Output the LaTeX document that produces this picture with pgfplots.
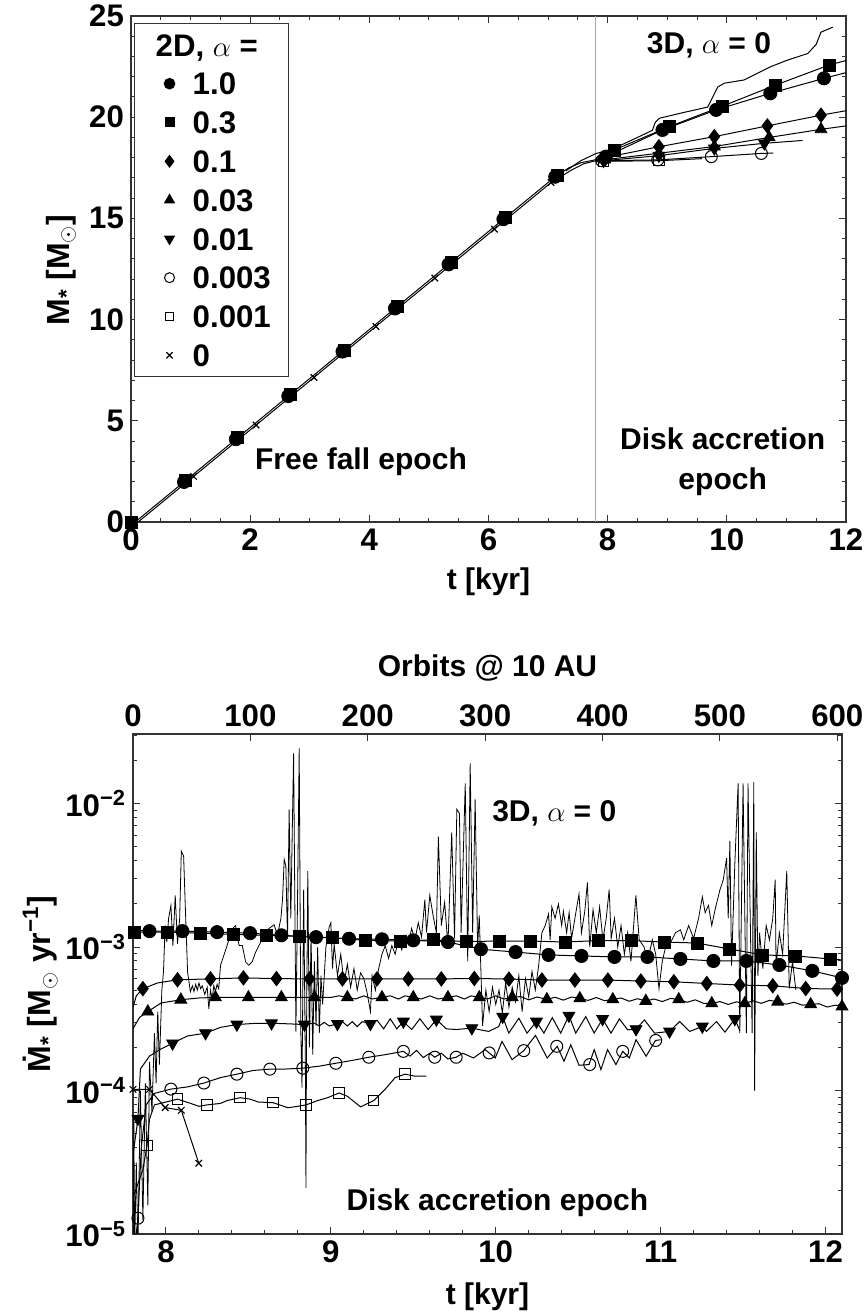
\documentclass[border=0pt]{standalone}
\usepackage{pgfplots}
\pgfplotsset{compat=1.18}
\usepackage{fontspec}
\setmainfont{Liberation Sans}

\pgfplotsset{
  panel/.style={
    scale only axis,
    axis line style={black!80, line width=0.6pt},
    tick align=inside,
    major tick length=3.6pt,
    minor tick length=2pt,
    every tick/.append style={black!80, line width=0.5pt},
    tick label style={font=\fontsize{15.6}{17}\selectfont\bfseries},
    xlabel style={font=\fontsize{15}{17}\selectfont\bfseries},
    ylabel style={font=\fontsize{16}{18}\selectfont\bfseries},
    /pgf/number format/assume math mode=true,
    clip mode=individual,
  },
  ln/.style={black, line width=0.5pt, no markers, forget plot},
  mc/.style={only marks, mark=*, mark size=3.3pt, black, forget plot},
  ms/.style={only marks, mark=square*, mark size=3pt, black, forget plot},
  md/.style={only marks, mark=diamond*, mark size=3.6pt, black, forget plot},
  mt/.style={only marks, mark=triangle*, mark size=3.4pt, black, forget plot},
  mv/.style={only marks, mark=triangle*, mark size=3.4pt, black, forget plot, mark options={rotate=180}},
  mo/.style={only marks, mark=o, mark size=3pt, black, forget plot, mark options={line width=0.5pt}},
  mq/.style={only marks, mark=square, mark size=2.6pt, black, forget plot, mark options={line width=0.5pt}},
  mx/.style={only marks, mark=x, mark size=2.3pt, black, forget plot, mark options={line width=0.6pt}},
}
\tikzset{txt/.style={font=\fontsize{15}{20}\selectfont\bfseries, align=center}}

\begin{document}
\begin{tikzpicture}
\useasboundingbox (0,0) rectangle (433.5pt,656.5pt);

% ---------------- upper panel: stellar mass ----------------
\begin{axis}[panel,
  at={(65.5pt,395.5pt)}, anchor=south west,
  width=357.5pt, height=253pt,
  xmin=0, xmax=12, ymin=0, ymax=25,
  xtick={0,2,...,12}, minor x tick num=3,
  ytick={0,5,...,25}, minor y tick num=4,
  xlabel={t [kyr]},
  ylabel={M\textsubscript{*} [M$_\odot$]},
  xlabel style={at={(axis description cs:0.5,-0.118)}, anchor=center},
  ylabel style={at={(axis description cs:-0.098,0.498)}, anchor=center},
  legend style={at={(0.004,0.986)}, anchor=north west,
    draw=black!80, line width=0.6pt,
    font=\fontsize{15.6}{17}\selectfont\bfseries,
    inner xsep=9pt, inner ysep=5pt, row sep=8.2pt, column sep=9pt,
    nodes={inner sep=0pt, text height=11.2pt, text depth=0pt}},
  legend cell align=left,
]
\addplot[gray!70, line width=0.5pt, forget plot] coordinates {(7.8,0) (7.8,25)};

% free fall epoch, common 2D track
\addplot[ln] coordinates {(0.07,0) (0.89,1.98) (1.76,4.09) (2.64,6.22) (3.55,8.42)
  (4.43,10.55) (5.33,12.73) (6.25,14.96) (7.12,17.06) (7.35,17.5) (7.55,17.75) (7.8,17.9)};
\addplot[ln] coordinates {(0.12,0) (1.05,2.25) (2.1,4.79) (3.07,7.14) (4.11,9.66)
  (5.1,12.05) (6.1,14.47) (7.05,16.77) (7.4,17.4) (7.6,17.7) (7.8,17.85) (8.2,17.85)};

% 3D, alpha = 0
\addplot[ln] coordinates {(7.3,17.35) (7.55,17.85) (7.8,18.2) (8.1,18.45) (8.5,19.0)
  (8.75,19.35) (8.8,19.75) (8.87,19.95) (9.3,20.25) (9.68,20.5) (9.78,21.1) (9.85,21.5)
  (9.96,21.68) (10.29,21.84) (10.74,22.5) (11.0,22.8) (11.36,23.15) (11.5,23.6)
  (11.58,24.2) (11.78,24.45)};

% disk accretion epoch, 2D tracks
\addplot[ln] coordinates {(7.8,17.9) (7.97,18.05) (8.92,19.37) (9.82,20.36) (10.73,21.18) (11.63,21.92) (12,22.2)};
\addplot[ln] coordinates {(7.8,17.95) (8.11,18.38) (9.03,19.53) (9.93,20.55) (10.82,21.59) (11.72,22.58) (12,22.8)};
\addplot[ln] coordinates {(7.8,17.9) (7.95,18.0) (8.86,18.54) (9.79,19.04) (10.68,19.57) (11.58,20.1) (12,20.32)};
\addplot[ln] coordinates {(7.8,17.85) (7.95,17.9) (8.86,18.22) (9.79,18.55) (10.71,19.0) (11.58,19.4) (12,19.57)};
\addplot[ln] coordinates {(7.8,17.85) (7.93,17.85) (8.86,18.1) (9.79,18.46) (10.63,18.71) (11.27,18.85)};
\addplot[ln] coordinates {(7.8,17.8) (7.9,17.85) (8.84,17.89) (9.74,18.05) (10.58,18.21) (10.78,18.23)};
\addplot[ln] coordinates {(7.8,17.8) (7.93,17.82) (8.86,17.85) (9.58,17.95)};

\addplot[mq] coordinates {(7.93,17.82) (8.86,17.85)};
\addplot[mo] coordinates {(7.9,17.85) (8.84,17.89) (9.74,18.05) (10.58,18.21)};
\addplot[mv] coordinates {(7.93,17.85) (8.86,18.1) (9.79,18.46) (10.63,18.71)};
\addplot[mt] coordinates {(7.95,17.9) (8.86,18.22) (9.79,18.55) (10.71,19.0) (11.58,19.4)};
\addplot[md] coordinates {(7.95,18.0) (8.86,18.54) (9.79,19.04) (10.68,19.57) (11.58,20.1)};
\addplot[ms] coordinates {(0,0) (0.92,2.05) (1.79,4.16) (2.68,6.31) (3.58,8.49) (4.47,10.65)
  (5.37,12.82) (6.29,15.05) (7.16,17.1) (8.11,18.38) (9.03,19.53) (9.93,20.55) (10.82,21.59) (11.72,22.58)};
\addplot[mc] coordinates {(0.89,1.98) (1.76,4.09) (2.64,6.22) (3.55,8.42) (4.43,10.55)
  (5.33,12.73) (6.25,14.96) (7.12,17.06) (7.97,18.05) (8.92,19.37) (9.82,20.36) (10.73,21.18) (11.63,21.92)};
\addplot[mx] coordinates {(1.05,2.25) (2.1,4.79) (3.07,7.14) (4.11,9.66) (5.1,12.05) (6.1,14.47) (7.05,16.77)};

\addlegendimage{empty legend}
\addlegendentry{\hspace*{-18.5pt}2D, $\alpha$ =}
\addlegendimage{only marks, mark=*, mark size=2.6pt, black}
\addlegendentry{1.0}
\addlegendimage{only marks, mark=square*, mark size=2.2pt, black}
\addlegendentry{0.3}
\addlegendimage{only marks, mark=diamond*, mark size=2.8pt, black}
\addlegendentry{0.1}
\addlegendimage{only marks, mark=triangle*, mark size=2.7pt, black}
\addlegendentry{0.03}
\addlegendimage{only marks, mark=triangle*, mark size=2.7pt, black, mark options={rotate=180}}
\addlegendentry{0.01}
\addlegendimage{only marks, mark=o, mark size=2.5pt, black, mark options={line width=0.5pt}}
\addlegendentry{0.003}
\addlegendimage{only marks, mark=square, mark size=2.1pt, black, mark options={line width=0.5pt}}
\addlegendentry{0.001}
\addlegendimage{only marks, mark=x, mark size=2.2pt, black, mark options={line width=0.6pt}}
\addlegendentry{0}

\node[txt] at (axis cs:3.86,2.96) {Free fall epoch};
\node[txt] at (axis cs:9.93,2.96) {Disk accretion\\epoch};
\node[txt] at (axis cs:9.70,23.57) {3D, $\alpha$ = 0};
\end{axis}

% ---------------- lower panel: accretion rate ----------------
\begin{axis}[panel,
  at={(66.5pt,39.5pt)}, anchor=south west,
  width=354.5pt, height=250pt,
  xmin=7.8, xmax=12.1, ymin=-5, ymax=-1.515,
  xtick={8,9,10,11,12}, minor x tick num=4, xtick pos=left,
  ytick={-5,-4,-3,-2},
  yticklabels={10\textsuperscript{−5},10\textsuperscript{−4},10\textsuperscript{−3},10\textsuperscript{−2}},
  minor ytick={-4.699,-4.523,-4.398,-4.301,-4.222,-4.155,-4.097,-4.046,
    -3.699,-3.523,-3.398,-3.301,-3.222,-3.155,-3.097,-3.046,
    -2.699,-2.523,-2.398,-2.301,-2.222,-2.155,-2.097,-2.046,-1.699,-1.523},
  xlabel={t [kyr]},
  ylabel={\.M\textsubscript{*} [M$_\odot$ yr\textsuperscript{−1}]},
  xlabel style={at={(axis description cs:0.5,-0.126)}, anchor=center},
  ylabel style={at={(axis description cs:-0.131,0.5)}, anchor=center},
]
% 3D, alpha = 0 (log10 of the rate)
\addplot[black, line width=0.4pt, forget plot] coordinates {
 (7.80,-5.10) (7.805,-4.2) (7.81,-5.10) (7.82,-4.5) (7.83,-5.10) (7.845,-4.0) (7.86,-4.9)
 (7.875,-3.95) (7.89,-4.8) (7.90,-3.8) (7.915,-4.15) (7.93,-3.6) (7.94,-3.95) (7.95,-3.45)
 (7.96,-3.82) (7.975,-3.3) (7.985,-3.17) (7.995,-2.85) (8.005,-2.965) (8.016,-2.80)
 (8.03,-2.71) (8.042,-2.99) (8.056,-2.64) (8.07,-2.977) (8.083,-2.80) (8.093,-2.331)
 (8.107,-2.366) (8.117,-2.71) (8.131,-3.173) (8.148,-3.311) (8.16,-3.27) (8.17,-3.31)
 (8.18,-3.26) (8.19,-3.30) (8.20,-3.25) (8.21,-3.29) (8.22,-3.27) (8.235,-3.33) (8.25,-3.28)
 (8.26,-3.43) (8.27,-3.30) (8.28,-3.36) (8.29,-3.27) (8.30,-3.31) (8.31,-3.26) (8.32,-3.29)
 (8.331,-3.127) (8.351,-3.058) (8.371,-2.988) (8.402,-2.873) (8.422,-2.85) (8.443,-2.988)
 (8.463,-2.99) (8.483,-3.104) (8.503,-3.127) (8.524,-3.10) (8.544,-3.035) (8.564,-2.99)
 (8.595,-2.919) (8.625,-2.87) (8.656,-2.845) (8.676,-2.919) (8.697,-2.80) (8.707,-2.665)
 (8.717,-2.389) (8.727,-2.435) (8.737,-2.942) (8.747,-2.043) (8.757,-2.80) (8.774,-1.65)
 (8.788,-3.59) (8.798,-2.66) (8.808,-1.616) (8.818,-3.6) (8.825,-3.98) (8.835,-2.6)
 (8.845,-3.76) (8.849,-4.68) (8.853,-3.5) (8.86,-2.47) (8.87,-3.7) (8.88,-2.9) (8.89,-3.75)
 (8.90,-3.1) (8.91,-3.55) (8.92,-3.0) (8.93,-3.6) (8.94,-3.2) (8.95,-3.4) (8.97,-3.0)
 (8.99,-2.86) (9.00,-2.83) (9.01,-3.15) (9.02,-2.98) (9.04,-3.2) (9.06,-3.05) (9.08,-3.25)
 (9.10,-3.12) (9.12,-3.28) (9.14,-3.15) (9.16,-3.30) (9.18,-3.18) (9.20,-3.22) (9.22,-3.32)
 (9.24,-3.45) (9.25,-3.20) (9.27,-3.30) (9.29,-3.15) (9.31,-3.05) (9.33,-2.99) (9.35,-3.08)
 (9.37,-2.99) (9.39,-3.05) (9.41,-2.95) (9.43,-3.02) (9.45,-2.92) (9.47,-2.98) (9.49,-2.87)
 (9.51,-2.95) (9.53,-2.83) (9.55,-2.93) (9.57,-2.67) (9.58,-2.90) (9.60,-2.64) (9.62,-2.78)
 (9.64,-2.90) (9.652,-2.23) (9.67,-2.85) (9.69,-2.69) (9.71,-2.99) (9.733,-2.20) (9.75,-2.94)
 (9.764,-2.04) (9.78,-2.07) (9.79,-2.90) (9.815,-1.86) (9.83,-3.1) (9.845,-1.72) (9.86,-2.90)
 (9.875,-1.97) (9.89,-3.0) (9.90,-2.78) (9.92,-3.55) (9.94,-3.3) (9.96,-3.45) (9.98,-3.28)
 (10.0,-3.40) (10.02,-3.30) (10.04,-3.46) (10.06,-3.25) (10.08,-3.42) (10.10,-3.28)
 (10.12,-3.38) (10.14,-3.20) (10.16,-3.45) (10.18,-3.22) (10.20,-3.35) (10.22,-3.17)
 (10.24,-3.30) (10.26,-3.13) (10.28,-2.90) (10.30,-2.85) (10.32,-2.77) (10.33,-2.95)
 (10.34,-2.72) (10.36,-2.80) (10.38,-2.70) (10.40,-2.85) (10.41,-2.75) (10.43,-2.90)
 (10.445,-2.76) (10.46,-2.94) (10.48,-2.80) (10.505,-2.63) (10.52,-2.90) (10.54,-2.75)
 (10.556,-2.55) (10.57,-3.0) (10.59,-2.74) (10.61,-2.90) (10.63,-2.72) (10.65,-2.95)
 (10.67,-2.80) (10.688,-2.60) (10.70,-2.94) (10.72,-2.80) (10.74,-3.0) (10.76,-2.85)
 (10.78,-3.05) (10.80,-2.90) (10.82,-3.1) (10.85,-2.64) (10.87,-2.95) (10.90,-3.0)
 (10.92,-3.1) (10.95,-2.95) (10.97,-3.05) (10.99,-3.29) (11.01,-3.1) (11.03,-3.0)
 (11.06,-2.97) (11.09,-2.90) (11.12,-2.88) (11.14,-2.95) (11.17,-2.85) (11.20,-2.94)
 (11.23,-2.80) (11.253,-2.65) (11.27,-2.76) (11.29,-2.71) (11.31,-2.85) (11.33,-2.74)
 (11.36,-2.60) (11.38,-2.53) (11.40,-2.38) (11.41,-2.80) (11.42,-2.26) (11.43,-3.13)
 (11.45,-2.42) (11.47,-1.86) (11.48,-3.60) (11.50,-1.86) (11.52,-3.60) (11.53,-1.86)
 (11.555,-3.6) (11.565,-1.85) (11.57,-4.0) (11.58,-2.2) (11.59,-3.2) (11.60,-2.9)
 (11.62,-3.15) (11.64,-2.85) (11.66,-2.95) (11.68,-2.8) (11.695,-2.53) (11.70,-3.13)
 (11.72,-2.90) (11.74,-3.05) (11.765,-2.47) (11.78,-3.29) (11.80,-3.1) (11.82,-3.3)};

% 2D, alpha = 1.0
\addplot[ln] coordinates {(7.80,-2.88) (7.90,-2.889) (8.10,-2.889) (8.31,-2.896) (8.51,-2.903)
 (8.70,-2.918) (8.91,-2.931) (9.11,-2.942) (9.31,-2.946) (9.50,-2.953) (9.71,-2.965) (9.91,-3.015)
 (10.12,-3.035) (10.32,-3.055) (10.52,-3.062) (10.72,-3.069) (10.92,-3.069) (11.12,-3.083)
 (11.32,-3.097) (11.52,-3.097) (11.72,-3.125) (11.92,-3.166) (12.1,-3.215)};
% 2D, alpha = 0.3
\addplot[ln] coordinates {(7.81,-2.896) (8.01,-2.896) (8.21,-2.903) (8.41,-2.912) (8.61,-2.919)
 (8.81,-2.926) (9.01,-2.935) (9.21,-2.953) (9.42,-2.958) (9.62,-2.950) (9.82,-2.962) (10.02,-2.958)
 (10.21,-2.958) (10.42,-2.965) (10.62,-2.955) (10.82,-2.955) (11.02,-2.965) (11.22,-2.972)
 (11.42,-3.014) (11.62,-3.055) (11.82,-3.062) (12.03,-3.083) (12.1,-3.09)};
% 2D, alpha = 0.1
\addplot[ln] coordinates {(7.80,-3.42) (7.82,-3.34) (7.86,-3.29) (7.95,-3.25) (8.07,-3.228)
 (8.27,-3.222) (8.47,-3.215) (8.67,-3.22) (8.87,-3.222) (9.07,-3.222) (9.28,-3.222) (9.47,-3.222)
 (9.67,-3.222) (9.87,-3.219) (10.08,-3.223) (10.28,-3.230) (10.48,-3.230) (10.68,-3.230)
 (10.88,-3.237) (11.08,-3.242) (11.28,-3.254) (11.48,-3.265) (11.68,-3.270) (11.88,-3.289)
 (12.07,-3.293) (12.1,-3.295)};
% 2D, alpha = 0.03
\addplot[ln] coordinates {(7.80,-3.57) (7.84,-3.49) (7.89,-3.45) (7.97,-3.39) (8.09,-3.367)
 (8.20,-3.355) (8.30,-3.351) (8.50,-3.351) (8.70,-3.351) (8.90,-3.351) (9.00,-3.351)
 (9.05,-3.340) (9.10,-3.351) (9.15,-3.362) (9.20,-3.340) (9.25,-3.362) (9.31,-3.351) (9.36,-3.340)
 (9.41,-3.362) (9.45,-3.340) (9.50,-3.351) (9.55,-3.362) (9.60,-3.340) (9.65,-3.362) (9.71,-3.351)
 (9.76,-3.340) (9.81,-3.362) (9.85,-3.340) (9.90,-3.351) (9.95,-3.362) (10.00,-3.340)
 (10.05,-3.362) (10.10,-3.351) (10.15,-3.345) (10.20,-3.368) (10.25,-3.348) (10.31,-3.365)
 (10.36,-3.350) (10.41,-3.370) (10.46,-3.348) (10.51,-3.358) (10.56,-3.372) (10.61,-3.352)
 (10.66,-3.374) (10.71,-3.365) (10.76,-3.355) (10.81,-3.378) (10.86,-3.360) (10.91,-3.376)
 (10.96,-3.362) (11.01,-3.380) (11.06,-3.358) (11.11,-3.365) (11.16,-3.385) (11.21,-3.368)
 (11.26,-3.392) (11.31,-3.393) (11.36,-3.380) (11.41,-3.400) (11.46,-3.382) (11.51,-3.393)
 (11.56,-3.375) (11.61,-3.392) (11.66,-3.372) (11.71,-3.381) (11.76,-3.398) (11.81,-3.385)
 (11.86,-3.405) (11.91,-3.400) (11.96,-3.395) (12.01,-3.418) (12.06,-3.405) (12.10,-3.415)};
% 2D, alpha = 0.01
\addplot[ln] coordinates {(7.80,-4.45) (7.83,-4.197) (7.845,-3.85) (7.90,-3.76) (7.97,-3.71)
 (8.04,-3.671) (8.13,-3.62) (8.24,-3.60) (8.33,-3.56) (8.43,-3.54) (8.54,-3.532) (8.64,-3.531)
 (8.74,-3.535) (8.84,-3.54) (8.90,-3.53) (8.93,-3.55) (8.96,-3.525) (8.99,-3.55) (9.04,-3.535)
 (9.07,-3.52) (9.10,-3.55) (9.13,-3.52) (9.16,-3.555) (9.19,-3.52) (9.24,-3.535) (9.28,-3.51)
 (9.32,-3.57) (9.36,-3.50) (9.40,-3.57) (9.44,-3.519) (9.49,-3.575) (9.54,-3.50) (9.59,-3.575)
 (9.64,-3.505) (9.70,-3.57) (9.76,-3.575) (9.855,-3.565) (9.957,-3.588) (10.018,-3.554)
 (10.042,-3.485) (10.079,-3.60) (10.14,-3.496) (10.19,-3.60) (10.247,-3.519) (10.292,-3.60)
 (10.343,-3.492) (10.394,-3.60) (10.444,-3.478) (10.485,-3.60) (10.546,-3.485) (10.597,-3.60)
 (10.648,-3.501) (10.699,-3.60) (10.75,-3.501) (10.80,-3.577) (10.851,-3.572) (10.902,-3.508)
 (10.963,-3.60) (11.054,-3.588) (11.115,-3.519) (11.176,-3.588) (11.253,-3.554) (11.278,-3.588)
 (11.339,-3.519) (11.39,-3.593) (11.45,-3.501) (11.481,-3.584)};
% 2D, alpha = 0.003
\addplot[ln] coordinates {(7.80,-5.2) (7.83,-4.89) (7.85,-4.4) (7.88,-4.1) (7.93,-4.02)
 (8.03,-3.99) (8.13,-3.975) (8.23,-3.948) (8.33,-3.91) (8.43,-3.886) (8.53,-3.86) (8.63,-3.851)
 (8.73,-3.85) (8.83,-3.844) (8.93,-3.83) (9.03,-3.81) (9.13,-3.79) (9.23,-3.768) (9.33,-3.75)
 (9.44,-3.727) (9.48,-3.76) (9.52,-3.72) (9.56,-3.77) (9.60,-3.74) (9.63,-3.768) (9.67,-3.74)
 (9.71,-3.78) (9.76,-3.768) (9.80,-3.74) (9.865,-3.773) (9.936,-3.715) (9.997,-3.773)
 (10.038,-3.658) (10.099,-3.785) (10.17,-3.722) (10.241,-3.616) (10.312,-3.773) (10.373,-3.692)
 (10.414,-3.796) (10.455,-3.681) (10.505,-3.824) (10.566,-3.819) (10.597,-3.715) (10.638,-3.854)
 (10.678,-3.715) (10.729,-3.819) (10.77,-3.727) (10.81,-3.773) (10.851,-3.646) (10.912,-3.761)
 (10.969,-3.651) (11.0,-3.646)};
% 2D, alpha = 0.001
\addplot[ln] coordinates {(7.80,-4.75) (7.86,-4.55) (7.885,-4.384) (7.90,-4.2) (7.93,-4.10)
 (8.0,-4.08) (8.07,-4.06) (8.15,-4.09) (8.20,-4.11) (8.25,-4.10) (8.33,-4.09) (8.37,-4.07)
 (8.45,-4.05) (8.51,-4.06) (8.56,-4.08) (8.65,-4.085) (8.74,-4.12) (8.80,-4.11) (8.85,-4.10)
 (8.92,-4.07) (8.98,-4.05) (9.05,-4.017) (9.10,-4.04) (9.18,-4.114) (9.26,-4.07) (9.33,-3.99)
 (9.39,-3.91) (9.45,-3.886) (9.51,-3.90) (9.58,-3.90)};
% 2D, alpha = 0
\addplot[ln] coordinates {(7.80,-3.992) (7.90,-3.992) (7.995,-4.119) (8.093,-4.138) (8.199,-4.507)};

\addplot[mc] coordinates {(7.90,-2.889) (8.10,-2.889) (8.31,-2.896) (8.51,-2.903) (8.70,-2.918)
 (8.91,-2.931) (9.11,-2.942) (9.31,-2.946) (9.50,-2.953) (9.71,-2.965) (9.91,-3.015) (10.12,-3.035)
 (10.32,-3.055) (10.52,-3.062) (10.72,-3.069) (10.92,-3.069) (11.12,-3.083) (11.32,-3.097)
 (11.52,-3.097) (11.72,-3.125) (11.92,-3.166) (12.1,-3.215)};
\addplot[ms] coordinates {(7.81,-2.896) (8.01,-2.896) (8.21,-2.903) (8.41,-2.912) (8.61,-2.919)
 (8.81,-2.926) (9.01,-2.935) (9.21,-2.953) (9.42,-2.958) (9.62,-2.950) (9.82,-2.962) (10.02,-2.958)
 (10.21,-2.958) (10.42,-2.965) (10.62,-2.955) (10.82,-2.955) (11.02,-2.965) (11.22,-2.972)
 (11.42,-3.014) (11.62,-3.055) (11.82,-3.062) (12.03,-3.083)};
\addplot[md] coordinates {(7.86,-3.29) (8.07,-3.228) (8.27,-3.222) (8.47,-3.215) (8.67,-3.22)
 (8.87,-3.222) (9.07,-3.222) (9.28,-3.222) (9.47,-3.222) (9.67,-3.222) (9.87,-3.219) (10.08,-3.223)
 (10.28,-3.230) (10.48,-3.230) (10.68,-3.230) (10.88,-3.237) (11.08,-3.242) (11.28,-3.254)
 (11.48,-3.265) (11.68,-3.270) (11.88,-3.289) (12.07,-3.293)};
\addplot[mt] coordinates {(7.89,-3.45) (8.09,-3.367) (8.30,-3.351) (8.50,-3.351) (8.70,-3.351)
 (8.90,-3.351) (9.10,-3.351) (9.31,-3.351) (9.50,-3.351) (9.71,-3.351) (9.90,-3.351) (10.10,-3.351)
 (10.31,-3.365) (10.51,-3.358) (10.71,-3.365) (10.91,-3.376) (11.11,-3.365) (11.31,-3.393)
 (11.51,-3.393) (11.71,-3.381) (11.91,-3.400) (12.10,-3.415)};
\addplot[mv] coordinates {(7.83,-4.197) (8.04,-3.671) (8.24,-3.60) (8.43,-3.54) (8.64,-3.531)
 (8.84,-3.54) (9.04,-3.535) (9.24,-3.535) (9.44,-3.519) (9.64,-3.505) (9.855,-3.565) (10.042,-3.485)
 (10.247,-3.519) (10.444,-3.478) (10.648,-3.501) (10.851,-3.572) (11.054,-3.588) (11.253,-3.554)
 (11.45,-3.501)};
\addplot[mo] coordinates {(7.83,-4.89) (8.03,-3.99) (8.23,-3.948) (8.43,-3.886) (8.63,-3.851)
 (8.83,-3.844) (9.03,-3.81) (9.23,-3.768) (9.44,-3.727) (9.63,-3.768) (9.76,-3.768) (9.96,-3.738)
 (10.17,-3.722) (10.37,-3.692) (10.57,-3.819) (10.77,-3.727) (10.97,-3.651)};
\addplot[mq] coordinates {(7.885,-4.384) (8.07,-4.06) (8.25,-4.10) (8.45,-4.05) (8.65,-4.085)
 (8.85,-4.10) (9.05,-4.017) (9.26,-4.07) (9.45,-3.886)};
\addplot[mx] coordinates {(7.80,-3.992) (7.90,-3.992) (7.995,-4.119) (8.093,-4.138) (8.199,-4.507)};

\node[txt] at (axis cs:10.355,-2.066) {3D, $\alpha$ = 0};
\node[txt] at (axis cs:10.01,-4.785) {Disk accretion epoch};
\end{axis}

% ---------------- orbit counter on the lower panel ----------------
\begin{axis}[panel,
  at={(66.5pt,39.5pt)}, anchor=south west,
  width=354.5pt, height=250pt,
  xmin=0, xmax=604, ymin=0, ymax=1,
  axis x line*=top, axis y line=none,
  tick align=inside,
  xtick={0,100,...,600}, minor x tick num=0,
  xlabel={Orbits @ 10 AU},
  xlabel style={at={(axis description cs:0.5,1.132)}, anchor=center},
]
\addplot[draw=none, forget plot] coordinates {(0,0) (604,1)};
\end{axis}
\end{tikzpicture}
\end{document}
